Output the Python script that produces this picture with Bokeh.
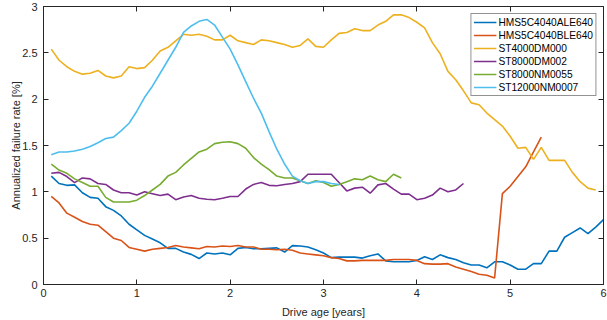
from bokeh.plotting import figure
from bokeh.models import LinearAxis, Legend, LegendItem, FixedTicker, Range1d
from bokeh.embed import file_html
from bokeh.resources import INLINE

names = ["HMS5C4040ALE640", "HMS5C4040BLE640", "ST4000DM000",
         "ST8000DM002", "ST8000NM0055", "ST12000NM0007"]
colors = ["#0072BD", "#D95319", "#EDB120", "#7E2F8E", "#77AC30", "#4DBEEE"]

hms_ale = [1.17,1.09,1.07,1.075,0.99,0.94,0.93,0.84,0.80,0.74,0.65,0.59,0.53,0.49,0.45,0.39,0.39,0.35,0.325,
           0.28,0.34,0.33,0.34,0.32,0.39,0.40,0.385,0.385,0.39,0.395,0.35,0.42,0.415,0.405,0.375,0.34,
           0.29,0.295,0.295,0.295,0.285,0.31,0.33,0.255,0.245,0.245,0.245,0.26,0.30,0.27,0.32,0.29,0.27,0.235,
           0.21,0.21,0.18,0.245,0.245,0.21,0.165,0.165,0.225,0.225,0.36,0.36,0.51,0.56,0.61,0.55,0.62,0.70]
hms_ble = [0.95,0.88,0.77,0.725,0.68,0.65,0.64,0.57,0.50,0.475,0.40,0.38,0.36,0.38,0.39,0.40,0.42,0.405,0.395,
           0.385,0.41,0.405,0.415,0.41,0.42,0.405,0.405,0.38,0.38,0.375,0.38,0.37,0.34,0.33,0.32,0.31,
           0.29,0.28,0.255,0.255,0.26,0.26,0.26,0.26,0.27,0.27,0.27,0.26,0.225,0.22,0.22,0.225,0.19,0.165,0.14,0.11,0.10,0.07,
           0.98,1.06,1.165,1.27,1.43,1.59]
st4000 = [2.54,2.42,2.35,2.30,2.27,2.28,2.31,2.25,2.23,2.25,2.35,2.33,2.34,2.42,2.52,2.56,2.63,2.70,2.69,2.70,
          2.68,2.64,2.64,2.69,2.63,2.61,2.59,2.64,2.63,2.61,2.59,2.56,2.58,2.65,2.57,2.56,2.64,
          2.71,2.72,2.76,2.74,2.74,2.80,2.84,2.91,2.91,2.88,2.83,2.77,2.61,2.49,2.30,2.21,2.09,1.96,1.94,1.85,
          1.78,1.71,1.60,1.47,1.48,1.35,1.48,1.34,1.34,1.34,1.21,1.11,1.04,1.02]
st8000dm = [1.20,1.21,1.165,1.10,1.15,1.14,1.09,1.08,1.02,0.99,0.99,0.965,1.00,0.98,0.96,0.975,0.915,0.945,0.96,
            0.93,0.92,0.915,0.93,0.95,0.95,1.03,1.08,1.10,1.07,1.065,1.08,1.09,1.11,1.19,1.19,1.19,1.19,
            1.10,1.01,1.04,1.05,0.985,1.075,1.09,1.03,0.975,0.975,0.915,0.93,0.965,1.04,1.00,1.02,1.09]
st8000nm = [1.30,1.235,1.20,1.14,1.10,1.06,1.06,0.94,0.89,0.89,0.89,0.91,0.96,1.02,1.08,1.17,1.21,1.29,1.36,
            1.43,1.46,1.52,1.535,1.54,1.52,1.47,1.37,1.30,1.24,1.17,1.15,1.15,1.12,1.09,1.12,1.10,1.06,1.08,
            1.11,1.14,1.13,1.17,1.13,1.11,1.19,1.15]
st12000 = [1.40,1.43,1.43,1.44,1.46,1.49,1.53,1.575,1.59,1.66,1.74,1.87,2.02,2.14,2.28,2.42,2.56,2.72,2.79,2.84,
           2.86,2.80,2.67,2.54,2.37,2.19,2.01,1.85,1.65,1.46,1.30,1.17,1.12,1.09,1.11,1.11,1.09,1.08]

series = [hms_ale, hms_ble, st4000, st8000dm, st8000nm, st12000]

x_ticks = [0, 1, 2, 3, 4, 5, 6]
y_ticks = [0, 0.5, 1, 1.5, 2, 2.5, 3]
x_inner_ticks = [1, 2, 3, 4, 5]
y_inner_ticks = [0.5, 1, 1.5, 2, 2.5]

FONT = "Liberation Sans"
AX = "#262626"

p = figure(width=607, height=320, output_backend="svg", toolbar_location=None,
           x_range=Range1d(0, 6), y_range=Range1d(0, 3),
           min_border_left=43, min_border_right=4, min_border_top=6, min_border_bottom=34,
           background_fill_color="white", border_fill_color="white")
p.grid.visible = False
p.outline_line_color = AX
p.outline_line_width = 1

def style(ax, labels=True):
    ax.axis_line_color = AX
    ax.major_tick_line_color = AX
    ax.major_tick_in = 5
    ax.major_tick_out = 0
    ax.minor_tick_line_color = None
    ax.major_label_text_font = FONT
    ax.major_label_text_font_size = "11px"
    ax.major_label_text_color = AX
    ax.axis_label_text_font = FONT
    ax.axis_label_text_font_size = "11px"
    ax.axis_label_text_font_style = "normal"
    ax.axis_label_text_color = AX
    if not labels:
        ax.major_label_text_font_size = "1px"
        ax.major_label_text_color = None
        ax.major_label_standoff = 0

p.xaxis.ticker = FixedTicker(ticks=x_ticks)
p.yaxis.ticker = FixedTicker(ticks=y_ticks)
p.xaxis.axis_label = "Drive age [years]"
p.yaxis.axis_label = "Annualized failure rate [%]"
style(p.xaxis[0])
style(p.yaxis[0])
p.xaxis.major_label_standoff = 4
p.xaxis.axis_label_standoff = 6
p.yaxis.major_label_standoff = 6
p.yaxis.axis_label_standoff = -3

top = LinearAxis(ticker=FixedTicker(ticks=x_inner_ticks))
style(top, labels=False)
right = LinearAxis(ticker=FixedTicker(ticks=y_inner_ticks))
style(right, labels=False)
p.add_layout(top, "above")
p.add_layout(right, "right")

items = []
for name, col, vals in zip(names, colors, series):
    xs = [m / 12 for m in range(1, len(vals) + 1)]
    r = p.line(xs, vals, line_color=col, line_width=1.6)
    items.append(LegendItem(label=name, renderers=[r]))

legend = Legend(items=items, location="top_right")
legend.label_text_font = FONT
legend.label_text_font_size = "10.2px"
legend.label_text_color = "#000000"
legend.border_line_color = AX
legend.border_line_width = 1
legend.background_fill_color = "white"
legend.background_fill_alpha = 1
legend.glyph_width = 23
legend.glyph_height = 12
legend.label_height = 12
legend.label_standoff = 2
legend.spacing = 1
legend.padding = 2
legend.margin = 7
p.add_layout(legend)

open("out.html", "w").write(file_html(p, INLINE))
